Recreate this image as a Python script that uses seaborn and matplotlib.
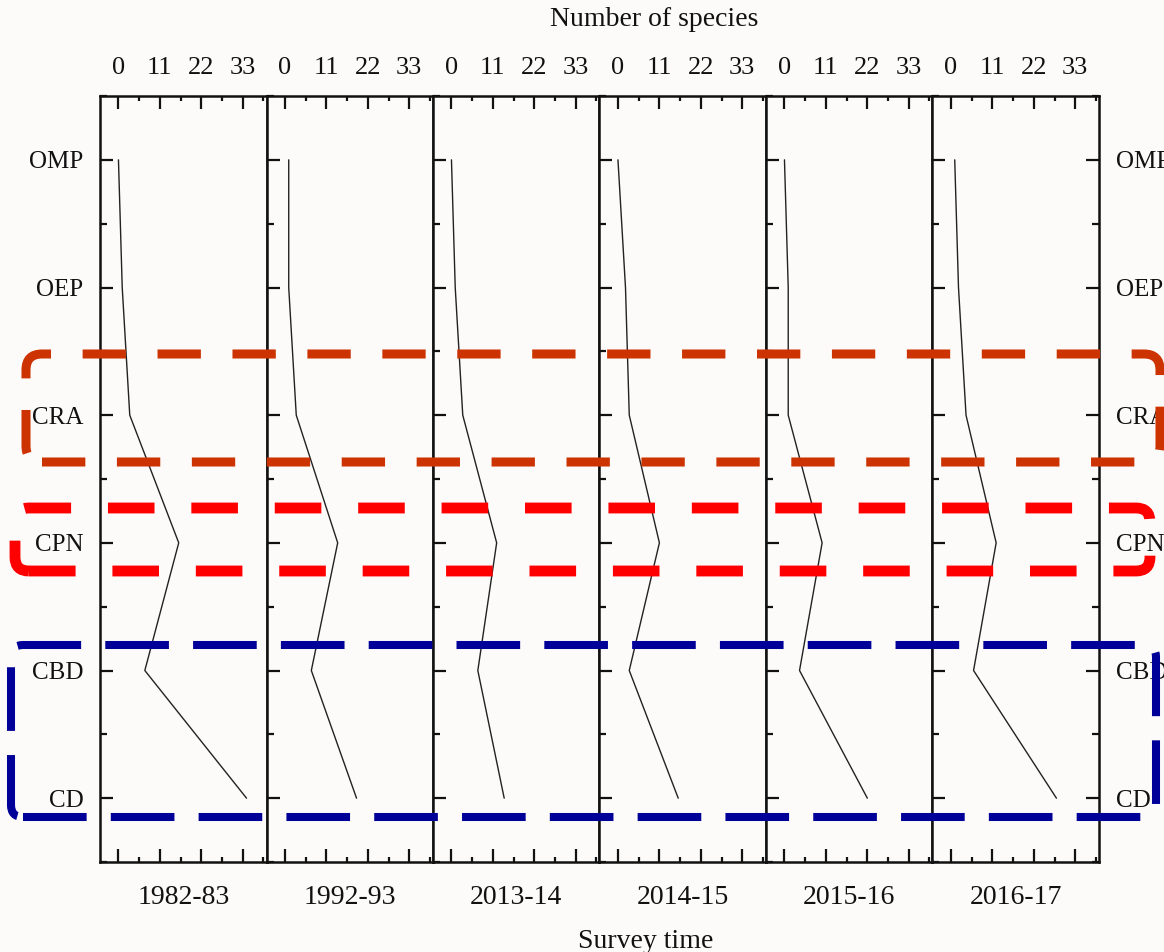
import matplotlib
matplotlib.use("Agg")
import matplotlib.pyplot as plt
import seaborn as sns
import numpy as np
import pandas as pd
from matplotlib.patches import FancyBboxPatch, BoxStyle
from matplotlib.ticker import MultipleLocator
from matplotlib.transforms import IdentityTransform

# Zones along the transect (top to bottom) and survey periods (panels)
zones = ["OMP", "OEP", "CRA", "CPN", "CBD", "CD"]
periods = ["1982-83", "1992-93", "2013-14", "2014-15", "2015-16", "2016-17"]

# Number of species recorded in each zone, one list per survey period
species_1982_83 = [0, 1, 3, 16, 7, 34]
species_1992_93 = [1, 1, 3, 14, 7, 19]
species_2013_14 = [0, 1, 3, 12, 7, 14]
species_2014_15 = [0, 2, 3, 11, 3, 16]
species_2015_16 = [0, 1, 1, 10, 4, 22]
species_2016_17 = [1, 2, 4, 12, 6, 28]
species_counts = [species_1982_83, species_1992_93, species_2013_14,
                  species_2014_15, species_2015_16, species_2016_17]

x_ticks = [0, 11, 22, 33]

sns.set_style("ticks")
plt.rcParams["font.family"] = ["Liberation Serif", "DejaVu Serif"]
plt.rcParams["axes.linewidth"] = 1.8

BG = "#fcfbfa"
INK = "#111111"
W, H = 1164, 952
fig, axes = plt.subplots(1, 6, figsize=(W / 100, H / 100), dpi=100)
fig.patch.set_facecolor(BG)
fig.subplots_adjust(left=100 / W, right=1099 / W, top=1 - 96 / H,
                    bottom=1 - 862 / H, wspace=0)

zone_pos = np.arange(1, len(zones) + 1)

for i, (ax, period, counts) in enumerate(zip(axes, periods, species_counts)):
    df = pd.DataFrame({"species": counts, "zone": zone_pos})
    sns.lineplot(data=df, x="species", y="zone", orient="y", estimator=None,
                 color="#222222", linewidth=1.0, ax=ax)
    ax.set_facecolor(BG)
    ax.set_xlim(-4.9, 39.3)
    ax.set_ylim(6.5, 0.5)
    ax.set_xticks(x_ticks)
    ax.set_xticklabels([str(t) for t in x_ticks])
    ax.xaxis.set_minor_locator(MultipleLocator(5.5))
    ax.set_yticks(zone_pos)
    ax.set_yticklabels(zones)
    ax.yaxis.set_minor_locator(MultipleLocator(0.5))
    ax.set_xlabel("")
    ax.set_ylabel("")
    for sp in ax.spines.values():
        sp.set_visible(True)
        sp.set_color(INK)
        sp.set_linewidth(1.8)

    ax.tick_params(axis="x", which="both", direction="in", top=True,
                   bottom=True, labeltop=True, labelbottom=False,
                   colors=INK, labelsize=19, pad=12)
    ax.tick_params(axis="x", which="major", length=9.5, width=1.6)
    ax.tick_params(axis="x", which="minor", length=3.6, width=1.6)

    last = i == len(axes) - 1
    ax.tick_params(axis="y", which="both", direction="in", left=True,
                   right=last, labelleft=(i == 0), labelright=last,
                   colors=INK, labelsize=18, pad=12)
    ax.tick_params(axis="y", which="major", length=9.5, width=1.6)
    ax.tick_params(axis="y", which="minor", length=5, width=1.6)

    ax.text(0.5, -0.046, period, transform=ax.transAxes, ha="center",
            va="center", fontsize=20, color=INK)

fig.text(654 / W, 1 - 20 / H, "Number of species", ha="center",
         va="center", fontsize=20, color=INK)
fig.text(646 / W, 1 - 941 / H, "Survey time", ha="center", va="center",
         fontsize=20, color=INK)

# Dashed rounded frames grouping the zones across all periods
frames = [
    # (left, top, right, bottom) in pixels, colour, width pt, dash (on, off)
    ((26, 354, 1160, 462), "#cc3300", 6.5, (4.8, 3.5), 16),
    ((15, 508, 1150, 571), "#ff0000", 7.8, (4.3, 3.4), 14),
    ((11, 645, 1156, 817), "#000099", 5.8, (7.9, 3.0), 12),
]
for (l, t, r, b), col, lw, dash, rad in frames:
    patch = FancyBboxPatch((l, H - b), r - l, b - t,
                           boxstyle=BoxStyle.Round(pad=0, rounding_size=rad),
                           transform=IdentityTransform(), fill=False,
                           edgecolor=col, linewidth=lw,
                           linestyle=(0, dash), zorder=10, clip_on=False)
    fig.add_artist(patch)

fig.savefig("out.png", dpi=100, facecolor=BG)
